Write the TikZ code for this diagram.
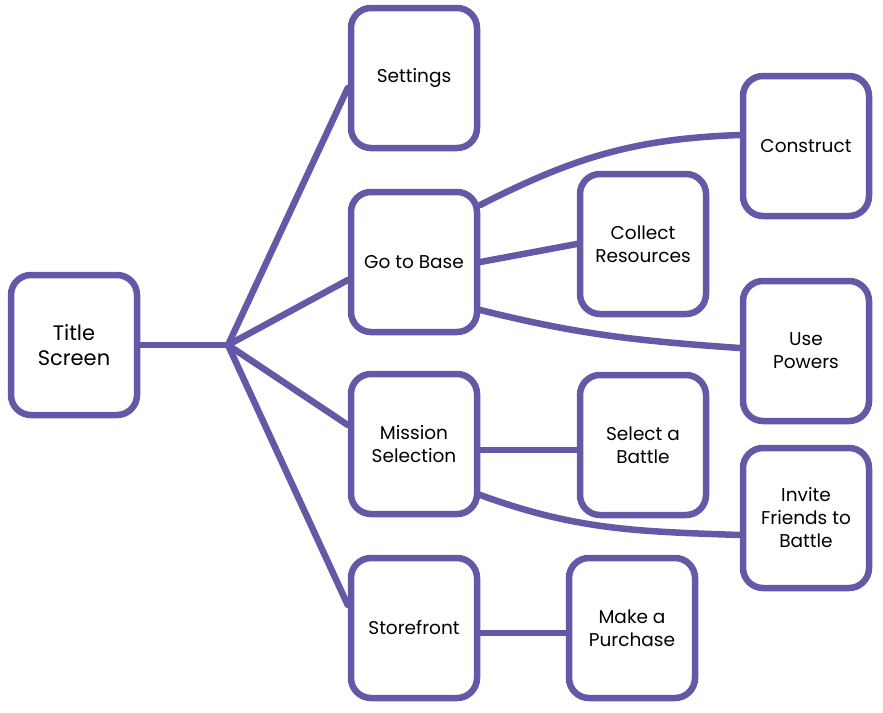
\documentclass[tikz,border=0pt]{standalone}
\usepackage{fontspec}
\setmainfont{Poppins}
\usetikzlibrary{positioning}

\begin{document}
\begin{tikzpicture}[x=1pt, y=-1pt]
  % Define chalk colour
  \definecolor{chalkpurple}{RGB}{101,88,166}

  \tikzset{
    screenbox/.style={draw=chalkpurple, line width=6.5pt, rounded corners=20pt,
      minimum width=126pt, minimum height=140pt, align=center,
      font=\fontsize{18.5}{23}\selectfont},
    link/.style={draw=chalkpurple, line width=6.5pt, line cap=round}
  }

  \useasboundingbox (0,0) rectangle (883,712);

  % Draw screens
  \node[screenbox, font=\fontsize{21}{25}\selectfont] (title) at (74,345) {Title\\Screen};
  \node[screenbox] (settings) at (414,78) {Settings};
  \node[screenbox] (base) at (414,262) {Go to Base};
  \node[screenbox] (mission) at (414,444) {Mission\\Selection};
  \node[screenbox] (store) at (414,628) {Storefront};
  \node[screenbox] (construct) at (806,146) {Construct};
  \node[screenbox] (collect) at (643,244) {Collect\\Resources};
  \node[screenbox] (powers) at (806,351) {Use\\Powers};
  \node[screenbox] (battle) at (643,445) {Select a\\Battle};
  \node[screenbox] (invite) at (806,518) {Invite\\Friends to\\Battle};
  \node[screenbox] (purchase) at (632,628) {Make a\\Purchase};

  % Draw the branches
  \coordinate (hub) at (228,345);
  \draw[link] (title.east) -- (hub);
  \foreach \target/\shift in {settings/-10pt, base/-18pt, mission/19pt, store/23pt} {
    \draw[link] (hub) -- ([yshift=\shift]\target.west);
  }

  \draw[link] ([yshift=57pt]base.east) to[out=27, in=182] ([yshift=11pt]construct.west);
  \draw[link] (base.east) -- (collect.west);
  \draw[link] ([yshift=-48pt]base.east) to[out=-14, in=176] ([yshift=3pt]powers.west);
  \draw[link] ([yshift=-6pt]mission.east) -- ([yshift=-5pt]battle.west);
  \draw[link] ([yshift=-51pt]mission.east) to[out=-20, in=178] ([yshift=-17pt]invite.west);
  \draw[link] ([yshift=-5pt]store.east) -- ([yshift=-5pt]purchase.west);
\end{tikzpicture}
\end{document}
